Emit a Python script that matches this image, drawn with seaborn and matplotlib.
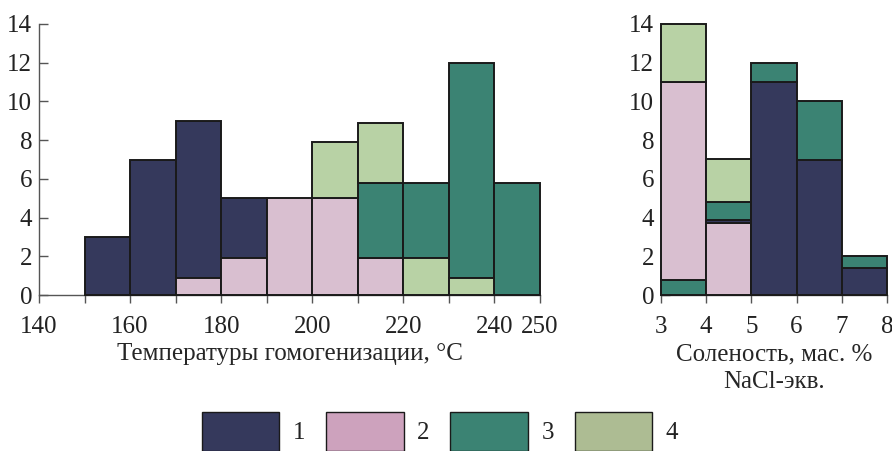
import matplotlib
matplotlib.use("Agg")
import matplotlib.pyplot as plt
from matplotlib.patches import Patch
import seaborn as sns

sns.set_theme(style="ticks")
SERIF = ["Liberation Serif", "DejaVu Serif"]
plt.rcParams["font.family"] = SERIF
plt.rcParams["text.color"] = "#222222"

# Fill colours of the four inclusion types (bars) and their legend swatches
bar_colors = {1: "#35395c", 2: "#d9bfd0", 3: "#3b8373", 4: "#b8d2a5"}
legend_colors = {1: "#35395c", 2: "#cda2bd", 3: "#3b8373", 4: "#adbc93"}
legend_labels = ["1", "2", "3", "4"]

# Homogenization temperature histogram: one row per bar segment
temp_bin = [150, 160, 170, 180, 170, 180, 190, 200, 210, 210, 220, 230, 240, 200, 210, 220, 230]
temp_type = [1, 1, 1, 1, 2, 2, 2, 2, 2, 3, 3, 3, 3, 4, 4, 4, 4]
temp_lo = [0, 0, 0.9, 1.9, 0, 0, 0, 0, 0, 1.9, 1.9, 0.9, 0, 5, 5.8, 0, 0]
temp_hi = [3, 7, 9, 5, 0.9, 1.9, 5, 5, 1.9, 5.8, 5.8, 12, 5.8, 7.9, 8.9, 1.9, 0.9]
temp_width = 10
temp_ticks = [140, 150, 160, 170, 180, 190, 200, 210, 220, 230, 240, 250]
temp_ticklabels = ["140", "", "160", "", "180", "", "200", "", "220", "", "240", "250"]

# Salinity histogram: one row per bar segment
salt_bin = [3, 3, 3, 4, 4, 4, 4, 5, 5, 6, 6, 7, 7]
salt_type = [3, 2, 4, 2, 1, 3, 4, 1, 3, 1, 3, 1, 3]
salt_lo = [0, 0.8, 11, 0, 3.7, 3.9, 4.8, 0, 11, 0, 7, 0, 1.4]
salt_hi = [0.8, 11, 14, 3.7, 3.9, 4.8, 7, 11, 12, 7, 10, 1.4, 2]
salt_width = 1
salt_ticks = [3, 4, 5, 6, 7, 8]

y_ticks = [0, 2, 4, 6, 8, 10, 12, 14]

fig = plt.figure(figsize=(8.92, 4.51), dpi=100)
ax_t = fig.add_axes([39 / 892, 1 - 295 / 451, (540 - 39) / 892, 271 / 451])
ax_s = fig.add_axes([661 / 892, 1 - 295 / 451, (887 - 661) / 892, 271 / 451])


def draw_segments(ax, bins, types, lo, hi, width):
    for b, t, a, z in zip(bins, types, lo, hi):
        ax.bar(b, z - a, bottom=a, width=width, align="edge",
               color=bar_colors[t], edgecolor="#1a1a1a", linewidth=1.4,
               zorder=3, clip_on=False)


draw_segments(ax_t, temp_bin, temp_type, temp_lo, temp_hi, temp_width)
draw_segments(ax_s, salt_bin, salt_type, salt_lo, salt_hi, salt_width)

ax_t.set_xlim(140, 250)
ax_t.set_xticks(temp_ticks)
ax_t.set_xticklabels(temp_ticklabels)
ax_s.set_xlim(3, 8)
ax_s.set_xticks(salt_ticks)

for ax in (ax_t, ax_s):
    ax.set_ylim(0, 14)
    ax.set_yticks(y_ticks)
    ax.set_facecolor("none")
    sns.despine(ax=ax)
    for side in ("left", "bottom"):
        ax.spines[side].set_color("#555555")
        ax.spines[side].set_linewidth(1.0)
    ax.tick_params(axis="y", direction="in", length=6.5, width=1.0,
                   color="#555555", labelsize=18, pad=5)
    ax.tick_params(axis="x", direction="out", length=5.8, width=1.0,
                   color="#555555", labelsize=18, pad=9)
    for lab in ax.get_xticklabels() + ax.get_yticklabels():
        lab.set_fontfamily(SERIF)
        lab.set_color("#222222")

ax_t.set_xlabel("Температуры гомогенизации, °C", fontsize=18, labelpad=4)
ax_s.set_xlabel("Соленость, мас. %\nNaCl-экв.", fontsize=18, labelpad=4,
                linespacing=1.35)

handles = [Patch(facecolor=legend_colors[k], edgecolor="#1a1a1a", linewidth=1.0)
           for k in (1, 2, 3, 4)]
fig.legend(handles, legend_labels, loc="upper center",
           bbox_to_anchor=(440 / 892, 1 - 412 / 451), ncol=4, frameon=False,
           fontsize=18, handlelength=3.1, handleheight=2.0,
           handletextpad=0.55, columnspacing=0.82, borderpad=0, borderaxespad=0)

fig.savefig("out.png", dpi=100)
